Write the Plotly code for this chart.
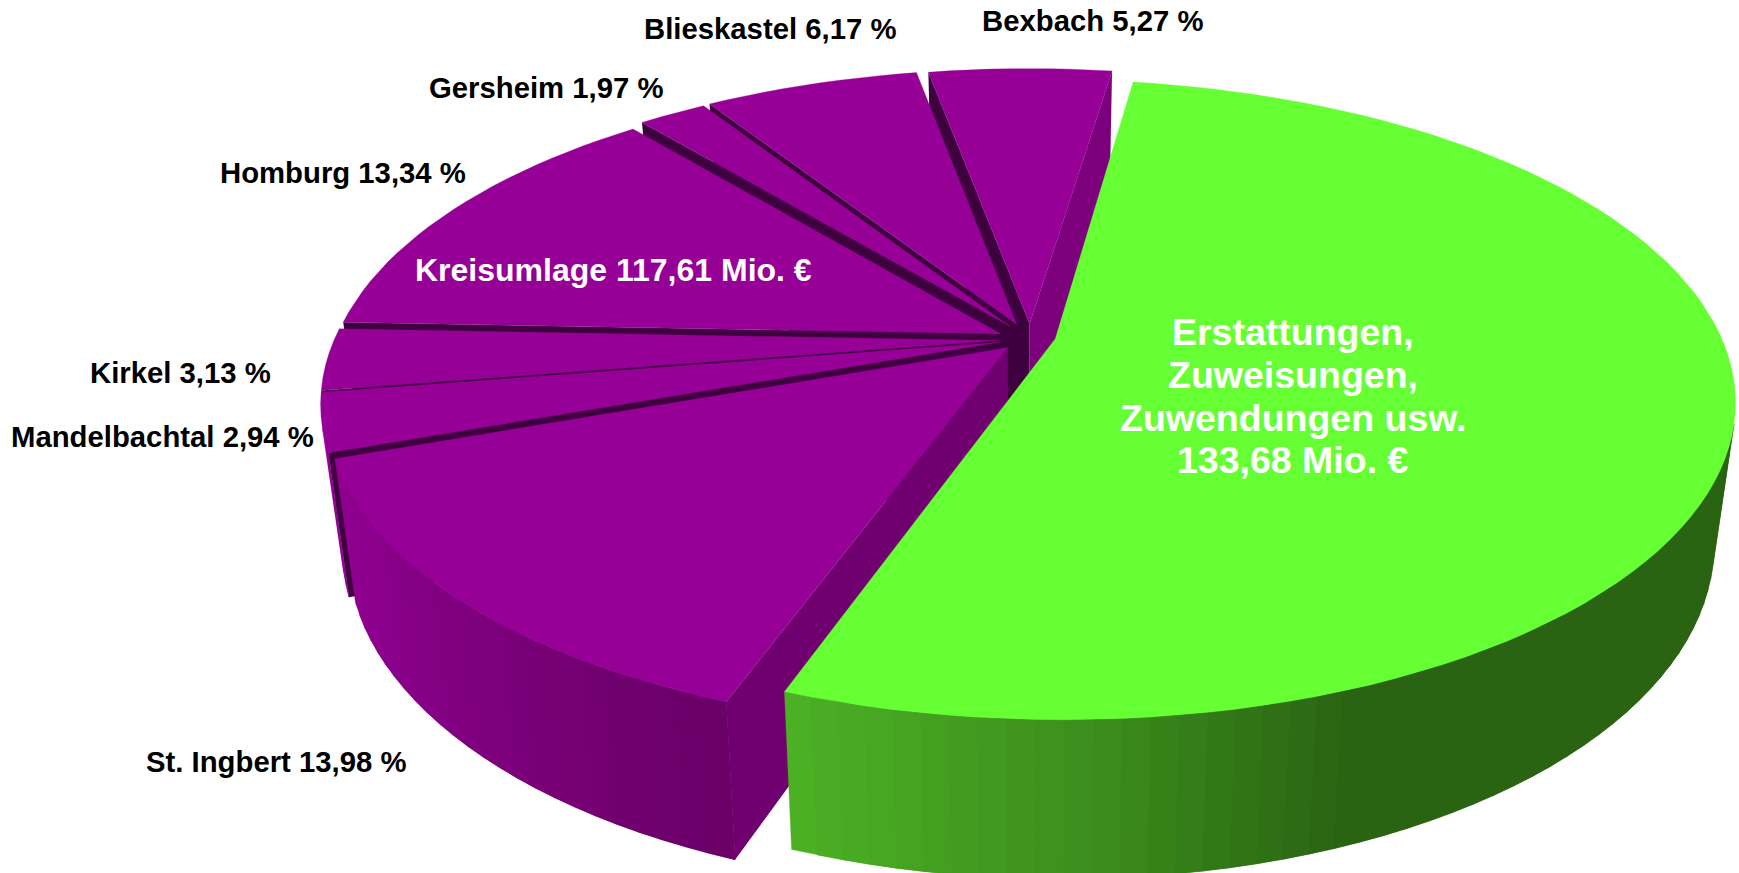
import math
import plotly.graph_objects as go

# ---- data ----
categories = ["Erstattungen", "Bexbach", "Blieskastel", "Gersheim", "Homburg", "Kirkel", "Mandelbachtal", "St. Ingbert"]
shares = [53.20, 5.27, 6.17, 1.97, 13.34, 3.13, 2.94, 13.98]   # percent of the total
green_lines = ["Erstattungen,", "Zuweisungen,", "Zuwendungen usw.", "133,68 Mio. €"]
total_label_purple = "Kreisumlage 117,61 Mio. €"
share_labels = ["Bexbach 5,27 %", "Blieskastel 6,17 %", "Gersheim 1,97 %", "Homburg 13,34 %",
                "Kirkel 3,13 %", "Mandelbachtal 2,94 %", "St. Ingbert 13,98 %"]

# ---- projection / styling ----
W, H = 1739, 873
X0, Y0 = 1025, 335
A, B, K = 665, 307, 0.19
DEPTH, SHRINK = 138, 0.03
START_DEG = 8.5
EXPLODE = {"Erstattungen": 0.05}
EXPLODE_DEFAULT = 0.03
# fine placement of each exploded slice, in pixels
NUDGE = {"Erstattungen": (-2, 0), "Bexbach": (5, -2), "Blieskastel": (-1, -2), "Gersheim": (-3, -1),
         "Homburg": (-6, 3), "Kirkel": (-6, 5), "Mandelbachtal": (-6, 5), "St. Ingbert": (-3, 6)}
GREEN, PURPLE = "#66ff33", "#960096"
DARK = "#3f0040"
GREEN_STOPS = [(780, (76, 178, 37)), (1100, (60, 140, 28)), (1340, (42, 100, 18)), (1800, (42, 100, 18))]
PURPLE_STOPS = [(320, (148, 0, 148)), (450, (128, 0, 128)), (600, (115, 0, 113)), (740, (105, 0, 102)), (1200, (105, 0, 102))]


def proj(u, v, z=0.0):
    w = 1 - K * v
    return (X0 + A * u * (1 - SHRINK * z) / w,
            Y0 + (B * v * (1 - SHRINK * z) + DEPTH * z) / w)


def ramp(x, stops):
    if x <= stops[0][0]:
        c = stops[0][1]
    else:
        c = stops[-1][1]
        for (x0, c0), (x1, c1) in zip(stops, stops[1:]):
            if x0 <= x <= x1:
                t = (x - x0) / (x1 - x0)
                c = tuple(a + (b - a) * t for a, b in zip(c0, c1))
                break
    return "rgb(%d,%d,%d)" % tuple(round(v) for v in c)


def area(pts):
    return sum(p[0] * q[1] - q[0] * p[1] for p, q in zip(pts, pts[1:] + pts[:1]))


fig = go.Figure()


def poly(pts, color, name, lw=0.0):
    xs = [p[0] for p in pts] + [pts[0][0]]
    ys = [p[1] for p in pts] + [pts[0][1]]
    fig.add_trace(go.Scatter(x=xs, y=ys, mode="lines", fill="toself", fillcolor=color,
                             line=dict(color=color, width=lw), hoverinfo="text", text=name,
                             showlegend=False))


# slice angles: green runs clockwise from the start, purple slices follow it
order = ["Erstattungen", "St. Ingbert", "Mandelbachtal", "Kirkel", "Homburg", "Gersheim", "Blieskastel", "Bexbach"]
val = dict(zip(categories, shares))
angles = {}
a = START_DEG
for n in order:
    angles[n] = (a, a + val[n] * 3.6)
    a += val[n] * 3.6


def draw(name):
    t1, t2 = angles[name]
    e = EXPLODE.get(name, EXPLODE_DEFAULT)
    dx, dy = NUDGE[name]
    mid = math.radians((t1 + t2) / 2)
    ou, ov = e * math.sin(mid), -e * math.cos(mid)
    green = name == "Erstattungen"
    n = max(2, int((t2 - t1) / 2))
    ths = [math.radians(t1 + (t2 - t1) * i / n) for i in range(n + 1)]
    rim = [(ou + math.sin(t), ov - math.cos(t)) for t in ths]

    def P(u, v, z=0.0):
        x, y = proj(u, v, z)
        return (x + dx, y + dy)

    top = [P(u, v) for u, v in rim]
    bot = [P(u, v, 1) for u, v in rim]
    apex, apexb = P(ou, ov), P(ou, ov, 1)
    # radial sides
    side1 = [apex, top[0], bot[0], apexb]
    side2 = [top[-1], apex, apexb, bot[-1]]
    c1 = "#700070" if name == "St. Ingbert" else DARK
    c2 = "#7c007c" if name == "Bexbach" else DARK
    if area(side1) < 0:
        poly(side1, c1, name)
    if area(side2) < 0:
        poly(side2, c2, name)
    # outer wall strips, shaded by horizontal position; each overlaps the next to hide seams
    strips = []
    for i in range(n):
        q = [top[i], top[i + 1], bot[i + 1], bot[i]]
        if area(q) < 0:
            strips.append(i)
    for i in sorted(strips, reverse=True):
        j = max(i - 1, strips[0])
        q = [top[i + 1], top[j], bot[j], bot[i + 1]]
        if i == j:
            q = [top[i], top[i + 1], bot[i + 1], bot[i]]
        mx = sum(p[0] for p in [top[i], top[i + 1], bot[i + 1], bot[i]]) / 4
        poly(q, ramp(mx, GREEN_STOPS if green else PURPLE_STOPS), name, lw=0.3)
    poly([apex] + top, GREEN if green else PURPLE, name, lw=0.3)


for nm in ["Bexbach", "Blieskastel", "Gersheim", "Homburg", "Kirkel", "Mandelbachtal", "St. Ingbert", "Erstattungen"]:
    draw(nm)

FONT = "Liberation Sans"
label_pos = [(1092, 20), (770, 28), (546, 87), (343, 172), (180, 372), (162, 436), (276, 761)]
for txt, (x, y) in zip(share_labels, label_pos):
    fig.add_annotation(x=x, y=y, text=txt, showarrow=False, xanchor="center", yanchor="middle",
                       font=dict(family=FONT, size=29.3, color="black", weight="bold"))
fig.add_annotation(x=613, y=270, text=total_label_purple, showarrow=False, xanchor="center", yanchor="middle",
                   font=dict(family=FONT, size=32, color="white", weight="bold"))
for txt, y in zip(green_lines, [332, 375, 418, 460]):
    fig.add_annotation(x=1293, y=y, text=txt, showarrow=False, xanchor="center", yanchor="middle",
                       font=dict(family=FONT, size=37.5, color="white", weight="bold"))

fig.update_layout(width=W, height=H, margin=dict(l=0, r=0, t=0, b=0),
                  paper_bgcolor="white", plot_bgcolor="white", showlegend=False,
                  xaxis=dict(range=[0, W], visible=False, fixedrange=True),
                  yaxis=dict(range=[H, 0], visible=False, fixedrange=True))
fig.write_html("out.html", config={"displayModeBar": False},
               post_script="document.body.style.margin='0';document.body.style.overflow='hidden';")
